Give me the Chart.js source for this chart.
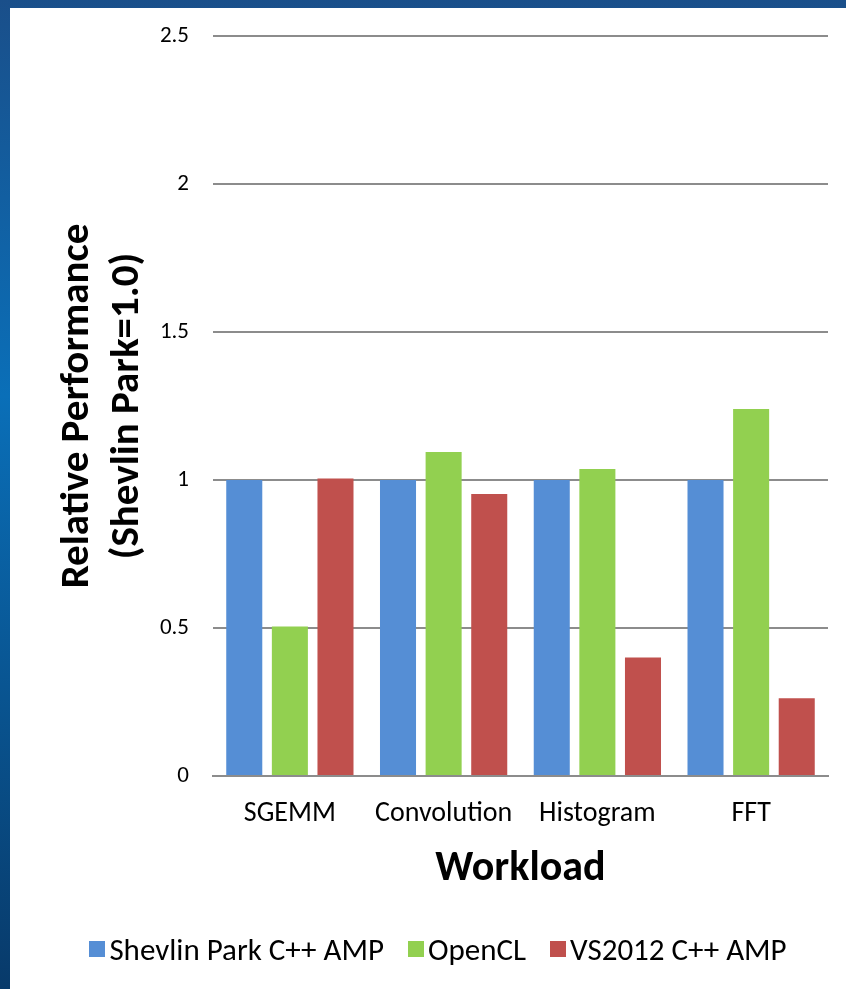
<!DOCTYPE html>
<html>
<head>
<meta charset="utf-8">
<script src="https://cdn.jsdelivr.net/npm/chart.js@4"></script>
<style>
  html, body { margin: 0; padding: 0; }
  body {
    width: 846px; height: 989px; overflow: hidden;
    background: linear-gradient(to bottom, #1a4f8a, #0a6fb8 40%, #083a6a);
    position: relative;
    font-family: Carlito, Lato, "Open Sans", sans-serif;
  }
  #frame {
    position: absolute; left: 10px; top: 8px; width: 836px; height: 981px;
    background: #fff;
  }
  #legend {
    position: absolute; left: 0; right: 0; top: 930px;
    display: flex; justify-content: center; align-items: center;
    font-size: 31px; color: #000; padding-left: 30px;
  }
  #legend .item { display: flex; align-items: center; margin: 0 12px; }
  #legend .box { width: 16px; height: 16px; margin-right: 4px; }
</style>
</head>
<body>
<div id="frame"><canvas id="perfChart" width="836" height="981"></canvas></div>
<div id="legend"></div>
<script>
const workloads = ['SGEMM', 'Convolution', 'Histogram', 'FFT'];
const seriesNames = ['Shevlin Park C++ AMP', 'OpenCL', 'VS2012 C++ AMP'];
const shevlinPark = [1, 1, 1, 1];
const openCL = [0.505, 1.095, 1.037, 1.24];
const vs2012 = [1.005, 0.953, 0.4, 0.263];
const yTicks = [0, 0.5, 1, 1.5, 2, 2.5];
const colors = ['#558ed5', '#92d050', '#c0504d'];

const FONT = 'Carlito, Lato, "Open Sans", sans-serif';
const GRID = '#8c8c8c';

const ctx = document.getElementById('perfChart').getContext('2d');
const chart = new Chart(ctx, {
  type: 'bar',
  data: {
    labels: workloads,
    datasets: [shevlinPark, openCL, vs2012].map((d, i) => ({
      label: seriesNames[i], data: d, backgroundColor: colors[i]
    }))
  },
  options: {
    responsive: false,
    animation: false,
    datasets: { bar: { categoryPercentage: 0.89, barPercentage: 0.79 } },
    layout: { padding: { top: 28, right: 18, left: 43, bottom: 0 } },
    plugins: {
      tooltip: { enabled: false },
      legend: { display: false }
    },
    scales: {
      x: {
        grid: { display: false, drawTicks: false },
        border: { color: GRID, width: 2 },
        ticks: { color: '#000', font: { family: FONT, size: 28 }, padding: 21 },
        title: {
          display: true, text: 'Workload', color: '#000',
          font: { family: FONT, size: 42, weight: 'bold' },
          padding: { top: 0, bottom: 94 }
        },
        afterFit: axis => { axis.height = 213; }
      },
      y: {
        min: 0, max: 2.5,
        afterBuildTicks: axis => { axis.ticks = yTicks.map(v => ({ value: v })); },
        grid: { color: GRID, lineWidth: 2, drawTicks: false },
        border: { display: false },
        ticks: { color: '#000', font: { family: FONT, size: 23 }, padding: 24, callback: v => String(v) },
        title: {
          display: true, text: ['Relative Performance', '(Shevlin Park=1.0)'], color: '#000',
          font: { family: FONT, size: 41, weight: 'bold', lineHeight: 1.22 },
          padding: { top: 0, bottom: 0 }
        },
        afterFit: axis => {
          axis.width = 160;
          axis.paddingTop = 0;
          axis.paddingBottom = 0;
        }
      }
    }
  }
});

// legend as real text below the chart
const legendEl = document.getElementById('legend');
seriesNames.forEach((name, i) => {
  const item = document.createElement('div');
  item.className = 'item';
  const box = document.createElement('span');
  box.className = 'box';
  box.style.background = colors[i];
  const label = document.createElement('span');
  label.textContent = name;
  item.appendChild(box);
  item.appendChild(label);
  legendEl.appendChild(item);
});
</script>
</body>
</html>
